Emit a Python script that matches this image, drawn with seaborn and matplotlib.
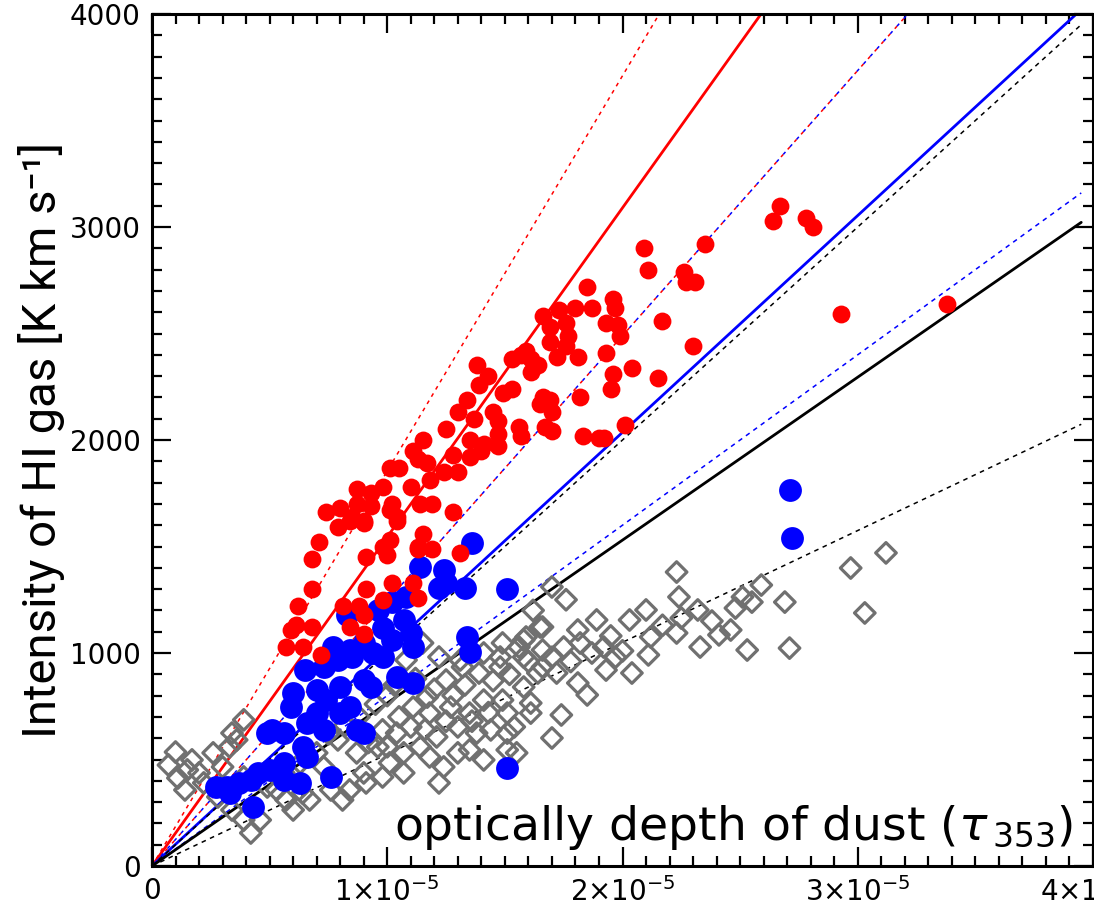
import numpy as np
import matplotlib
matplotlib.use("Agg")
import matplotlib.pyplot as plt
from matplotlib.ticker import MultipleLocator
import seaborn as sns

# ---------------- data (tau in units of 1e-5, intensity in K km/s) ----------------
red_tau = [2.67, 2.64, 2.78, 2.81, 2.35, 2.26, 2.27, 2.31, 2.09, 2.11, 2.17, 1.96, 1.97,
           1.93, 1.98, 1.99, 1.93, 2.30, 2.04, 1.96, 1.95, 2.15, 2.01, 1.92, 2.93, 3.38,
           1.85, 1.80, 1.87, 1.66, 1.69, 1.73, 1.76, 1.77, 1.69, 1.76, 1.72, 1.81, 1.57,
           1.59, 1.61, 1.64, 1.61, 1.53, 1.53, 1.66, 1.69, 1.65, 1.70, 1.82,
           1.38, 1.43, 1.39, 1.49, 1.34, 1.30, 1.37, 1.45, 1.47, 1.47, 1.47, 1.35, 1.35,
           1.41, 1.40, 1.25, 1.28, 1.30, 1.24, 1.15, 1.11, 1.13, 1.17, 1.18, 1.14, 1.10,
           1.05, 1.01, 0.98, 0.93, 0.87, 0.85, 0.90, 1.02, 1.04, 1.19, 1.28, 1.15, 0.98,
           1.13, 1.19, 1.56, 1.57, 1.67, 1.70, 1.83, 1.90,
           0.71, 0.79, 0.84, 0.90, 0.74, 0.80, 0.87, 0.93, 1.01, 1.04, 0.68, 0.91, 1.01,
           1.00, 1.13, 1.31, 0.68, 0.62, 0.61, 0.59, 0.68, 0.81, 0.91, 1.02, 1.11, 1.13,
           0.98, 0.88, 0.90, 0.84, 0.90, 0.57, 0.64, 0.72]
red_hi = [3100, 3030, 3040, 3000, 2920, 2790, 2740, 2740, 2900, 2800, 2560, 2660, 2620,
          2550, 2540, 2490, 2410, 2440, 2340, 2310, 2240, 2290, 2070, 2010, 2590, 2640,
          2720, 2620, 2620, 2580, 2530, 2610, 2550, 2490, 2460, 2440, 2390, 2390, 2400,
          2420, 2380, 2350, 2320, 2380, 2240, 2200, 2190, 2170, 2130, 2200,
          2350, 2300, 2260, 2220, 2190, 2130, 2100, 2130, 2090, 2030, 1970, 2000, 1920,
          1980, 1950, 2050, 1930, 1850, 1850, 2000, 1950, 1910, 1890, 1810, 1700, 1780,
          1870, 1870, 1780, 1750, 1770, 1640, 1610, 1700, 1640, 1700, 1660, 1560, 1500,
          1490, 1490, 2060, 2020, 2060, 2040, 2020, 2010,
          1520, 1590, 1620, 1620, 1660, 1680, 1700, 1690, 1670, 1620, 1440, 1450, 1530,
          1460, 1500, 1470, 1300, 1220, 1130, 1110, 1120, 1220, 1300, 1330, 1330, 1260,
          1250, 1220, 1180, 1120, 1090, 1030, 1030, 990]

blue_tau = [1.36, 1.14, 1.24, 1.22, 1.33, 1.51, 1.25, 1.02, 1.08, 0.96,
            0.83, 0.98, 1.07, 1.10, 1.11, 1.02, 0.77, 0.84, 0.90, 0.94,
            1.34, 1.35, 0.65, 0.73, 0.79, 0.85, 0.98, 1.04, 1.11, 0.90,
            0.93, 0.80, 0.70, 0.74, 0.60, 0.59, 0.70, 0.80, 0.84, 0.66,
            0.73, 0.51, 0.49, 0.56, 0.87, 0.90, 0.64, 0.66, 0.56, 0.50,
            0.45, 0.63, 0.56, 0.42, 0.37, 0.32, 0.27, 0.43, 0.33, 0.76,
            1.51, 2.71, 2.72]
blue_hi = [1516, 1404, 1390, 1305, 1305, 1300, 1330, 1240, 1263, 1200,
           1180, 1117, 1155, 1094, 1028, 1061, 1028, 1014, 1047, 1000,
           1075, 1005, 920, 934, 967, 981, 981, 887, 859, 873,
           840, 840, 826, 779, 812, 746, 718, 718, 746, 671,
           639, 639, 624, 624, 639, 624, 559, 512, 484, 451,
           437, 390, 404, 404, 390, 371, 371, 277, 343, 418,
           460, 1765, 1540]

gray_tau = [2.23, 2.24, 2.10, 2.32, 2.25, 2.23, 2.12, 2.11, 2.04, 2.33, 2.41, 2.46, 2.48,
            2.51, 2.55, 2.59, 2.69, 2.53, 2.71, 2.97, 3.12, 3.03, 1.89, 2.03, 1.92, 1.93,
            1.81, 1.82, 1.75, 1.65, 1.59, 1.56, 1.66, 1.72, 1.81, 1.85, 1.61, 1.74, 1.70,
            1.54, 1.51, 1.51, 1.48,
            0.17, 0.20, 0.26, 0.33, 0.36, 0.30, 0.15, 0.22, 0.34, 0.39, 0.42, 0.46, 0.28,
            0.60, 0.67, 0.76, 0.81, 0.91, 0.98, 1.07, 1.22, 1.24, 1.18, 1.35, 1.51, 1.44,
            1.38, 1.30, 1.61, 1.49, 1.58, 1.64, 1.66, 1.58, 1.48, 1.39, 1.31, 1.25, 1.17,
            1.11, 1.05, 0.98, 0.96, 0.87, 0.79, 0.70, 0.63, 0.73, 0.56, 0.49, 0.53, 0.57,
            0.64, 0.84, 0.90, 1.01, 1.07, 1.14, 1.21, 1.27, 1.18, 1.10, 1.04, 1.15, 1.08,
            1.22, 1.32, 1.41, 1.49, 1.58, 1.66, 1.41, 1.35, 1.55, 1.41, 1.30, 0.39, 0.34,
            0.39, 0.10, 0.07, 0.11, 0.14, 1.70, 1.76, 1.62,
            0.95, 1.00, 1.03, 1.12, 1.20, 1.28, 1.33, 1.45, 1.52, 1.43, 1.36, 1.25, 1.16,
            0.88, 0.82, 0.75, 0.92, 1.00, 1.60, 1.70, 1.78, 1.87, 1.95, 2.00, 2.17, 2.38,
            1.97]
gray_hi = [1380, 1263, 1202, 1202, 1164, 1094, 1075, 991, 906, 1028, 1085, 1108, 1211,
           1263, 1239, 1319, 1239, 1014, 1023, 1399, 1470, 1188, 1155, 1155, 1028, 920,
           1108, 1047, 1028, 1122, 1075, 1028, 934, 906, 859, 803, 765, 709, 601,
           653, 718, 545, 934,
           498, 437, 531, 559, 592, 465, 451, 390, 263, 216, 155, 216, 324,
           263, 310, 357, 310, 390, 418, 437, 390, 465, 512, 545, 624, 639,
           624, 653, 718, 779, 840, 906, 1122, 1061, 981, 906, 967, 873, 793,
           746, 700, 639, 559, 531, 592, 531, 484, 465, 437, 371, 357, 310,
           343, 357, 437, 484, 531, 559, 606, 746, 718, 653, 624, 1047, 967,
           981, 934, 1000, 1047, 981, 1014, 779, 718, 531, 498, 531, 686, 624,
           418, 535, 474, 413, 357, 1310, 1250, 1200,
           760, 800, 850, 880, 830, 800, 850, 870, 900, 720, 680, 680, 640,
           700, 660, 620, 580, 560, 960, 980, 960, 1000, 1080, 1010, 1130, 1150,
           980]

# fitted proportional relations  I = slope * tau
line_colors = ["#ff0000", "#ff0000", "#ff0000",
               "#0000ff", "#0000ff", "#0000ff",
               "#000000", "#000000", "#000000"]
line_slopes = [1.545e8, 1.855e8, 1.245e8,
               1.018e8, 1.245e8, 8.0e7,
               7.65e7, 1.0e8, 5.25e7]
line_styles = ["solid", "dotted", "paired",
               "solid", "paired_offset", "dashed",
               "solid", "dashed", "dashed"]
line_tau_end = 3.95e-5

x_ticks = [0, 1e-5, 2e-5, 3e-5, 4e-5]
x_tick_labels = ["0", r"1$\times$10$^{-5}$", r"2$\times$10$^{-5}$",
                 r"3$\times$10$^{-5}$", r"4$\times$10$^{-5}$"]
y_ticks = [0, 1000, 2000, 3000, 4000]

# ---------------- plotting ----------------
sns.set_style("ticks")
plt.rcParams["font.family"] = ["DejaVu Sans"]
plt.rcParams["mathtext.fontset"] = "dejavusans"
plt.rcParams["text.color"] = "black"
plt.rcParams["axes.labelcolor"] = "black"
plt.rcParams["xtick.color"] = "black"
plt.rcParams["ytick.color"] = "black"

fig = plt.figure(figsize=(10.94, 9.11), dpi=100)
ax = fig.add_axes([152 / 1094, 1 - 866 / 911, (1093 - 152) / 1094, (866 - 14) / 911])

dash_map = {"solid": "-", "dotted": (0, (2.5, 3.0)), "dashed": (0, (3.0, 3.0)),
            "paired": (0, (2.2, 4.4)), "paired_offset": (4.4, (2.2, 4.4))}
for c, s, ls in zip(line_colors, line_slopes, line_styles):
    tx = np.array([0.0, line_tau_end])
    lw = 2.0 if ls == "solid" else 1.1
    sns.lineplot(x=tx, y=s * tx, color=c, linestyle=dash_map[ls], linewidth=lw,
                 ax=ax, zorder=1, legend=False)

sns.scatterplot(x=np.array(gray_tau) * 1e-5, y=gray_hi, marker="D", s=110,
                facecolors="none", edgecolor="#707070", linewidth=2.3,
                ax=ax, zorder=2, legend=False)
sns.scatterplot(x=np.array(blue_tau) * 1e-5, y=blue_hi, marker="o", s=270,
                color="#0000ff", linewidth=0, ax=ax, zorder=3, legend=False)
sns.scatterplot(x=np.array(red_tau) * 1e-5, y=red_hi, marker="o", s=165,
                color="#ff0000", linewidth=0, ax=ax, zorder=4, legend=False)

ax.set_xlim(0, 4e-5)
ax.set_ylim(0, 4000)
ax.set_xticks(x_ticks)
ax.set_xticklabels(x_tick_labels)
ax.set_yticks(y_ticks)
ax.set_yticklabels([str(v) for v in y_ticks])
ax.xaxis.set_minor_locator(MultipleLocator(1e-6))
ax.yaxis.set_minor_locator(MultipleLocator(100))

for sp in ax.spines.values():
    sp.set_visible(True)
    sp.set_linewidth(2.2)
    sp.set_color("black")
ax.tick_params(which="both", direction="in", top=True, right=True, width=1.6,
               colors="black", labelcolor="black")
ax.tick_params(which="major", length=14, labelsize=20, pad=8)
ax.tick_params(which="minor", length=7)

ax.set_ylabel("Intensity of HI gas [K km s\u207b\u00b9]", fontsize=34,
              family=["Roboto", "DejaVu Sans"], fontweight="normal",
              color="black", ha="center", va="center")
ax.yaxis.set_label_coords(-0.117, 0.5)
ax.set_xlabel(r"optically depth of dust ($\tau_{\,353}$)", fontsize=34,
              color="black", ha="center", va="center")
ax.xaxis.set_label_coords(0.618, 0.045)

fig.savefig("out.png", dpi=100)
